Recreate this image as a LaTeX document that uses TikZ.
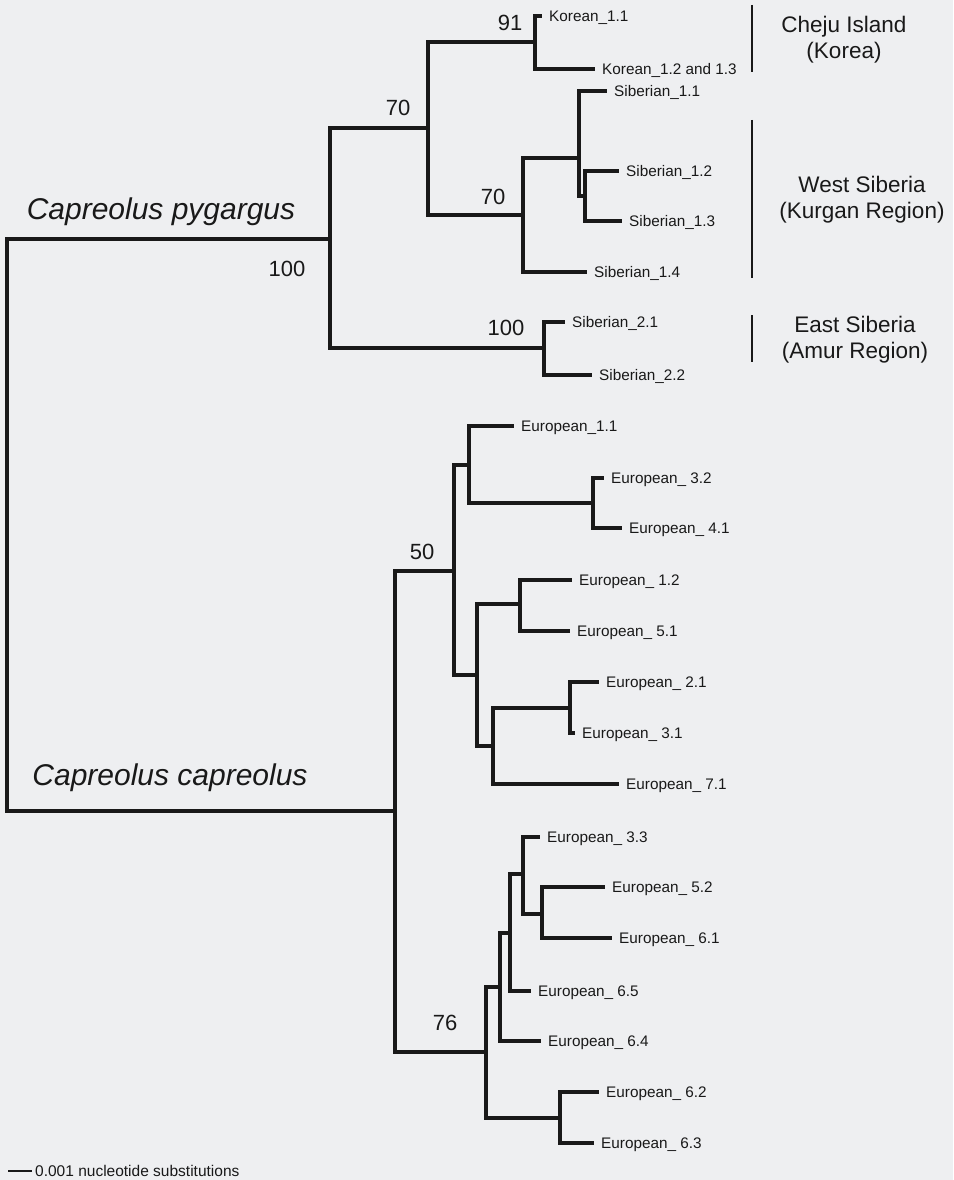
\documentclass[tikz,border=0pt]{standalone}
\usepackage{fontspec}
\setmainfont{Liberation Sans}
\usetikzlibrary{positioning}
\definecolor{paper}{RGB}{238,239,241}
\definecolor{ink}{RGB}{25,25,25}
\tikzset{
  branch/.style={draw=ink,line width=3.2pt,line cap=rect},
  bar/.style={draw=ink,line width=2.5pt},
  leaf/.style={anchor=west,inner sep=0pt,text=ink,font=\fontsize{15.3}{18}\selectfont,text height=11pt,text depth=0pt},
  boot/.style={inner sep=0pt,text=ink,font=\fontsize{22}{26}\selectfont},
  taxon/.style={inner sep=0pt,text=ink,font=\fontsize{30}{34}\selectfont\itshape},
  region/.style={inner sep=0pt,text=ink,align=center,font=\fontsize{22.5}{26}\selectfont}
}
\begin{document}
\begin{tikzpicture}[x=1pt,y=-1pt]
\fill[paper] (0,0) rectangle (953,1180);
\useasboundingbox (0,0) rectangle (953,1180);
% internal nodes and leaf tips
\foreach \n/\x/\y in {root/7/525,pyg/330/239,cap/395/811,A/428/128,B/544/348,K/535/42,S/523/215,
  S1/579/158,S2/585/196,k11/540/16,k12/593/69,s11/605/91,s12/617/171,s13/620/221,s14/585/272,
  s21/563/322,s22/590/375,C50/454/571,C76/486/1052,E1/469/465,E2/477/675,E3/593/503,E4/520/604,
  E5/493/746,E6/570/708,e11/512/426,e32/602/478,e41/620/528,e12/570/580,e51/568/631,e21/597/682,
  e31/573/733,e71/617/784,F1/500/987,F2/510/933,F3/523/874,F4/542/914,F5/560/1118,e33/538/837,
  e52/603/887,e61/610/938,e65/529/991,e64/539/1041,e62/597/1092,e63/592/1143}
  \coordinate (\n) at (\x,\y);
% branches
\foreach \p/\c in {root/pyg,root/cap,pyg/A,pyg/B,A/K,A/S,K/k11,K/k12,S/S1,S/s14,S1/s11,S1/S2,
  S2/s12,S2/s13,B/s21,B/s22,cap/C50,cap/C76,C50/E1,C50/E2,E1/e11,E1/E3,E3/e32,E3/e41,E2/E4,
  E2/E5,E4/e12,E4/e51,E5/E6,E5/e71,E6/e21,E6/e31,C76/F1,C76/F5,F1/F2,F1/e64,F2/F3,F2/e65,
  F3/e33,F3/F4,F4/e52,F4/e61,F5/e62,F5/e63}
  \draw[branch] (\p) |- (\c);
% leaf labels
\foreach \t/\s in {k11/Korean\_1.1,k12/Korean\_1.2 and 1.3,s11/Siberian\_1.1,s12/Siberian\_1.2,
  s13/Siberian\_1.3,s14/Siberian\_1.4,s21/Siberian\_2.1,s22/Siberian\_2.2,e11/European\_1.1,
  e32/European\_ 3.2,e41/European\_ 4.1,e12/European\_ 1.2,e51/European\_ 5.1,e21/European\_ 2.1,
  e31/European\_ 3.1,e71/European\_ 7.1,e33/European\_ 3.3,e52/European\_ 5.2,e61/European\_ 6.1,
  e65/European\_ 6.5,e64/European\_ 6.4,e62/European\_ 6.2,e63/European\_ 6.3}
  \node[leaf,right=9pt of \t] (\t-lbl) {\s};
% bootstrap values
\node[boot] (b91) at (510,23) {91};
\node[boot] (b70a) at (398,108) {70};
\node[boot] (b70b) at (493,197) {70};
\node[boot] (b100a) at (287,269) {100};
\node[boot] (b100b) at (506,328) {100};
\node[boot] (b50) at (422,552) {50};
\node[boot] (b76) at (445,1023) {76};
\node[taxon] (pygargus) at (161,212) {Capreolus pygargus};
\node[taxon] (capreolus) at (170,778) {Capreolus capreolus};
% regions
\foreach \y/\z in {5/72,120/278,315/362}
  \draw[bar] (752,\y) -- (752,\z);
\node[region] (cheju) at (844,40) {Cheju Island\\(Korea)};
\node[region] (west) at (862,200) {West Siberia\\(Kurgan Region)};
\node[region] (east) at (855,340) {East Siberia\\(Amur Region)};
% scale
\coordinate (sb0) at (8,1171);
\coordinate (sb1) at (32,1171);
\draw[ink,line width=1.2pt] (sb0) -- (sb1);
\node[leaf,font=\fontsize{15.5}{18}\selectfont,right=3pt of sb1] (scale) {0.001 nucleotide substitutions};
\end{tikzpicture}
\end{document}
